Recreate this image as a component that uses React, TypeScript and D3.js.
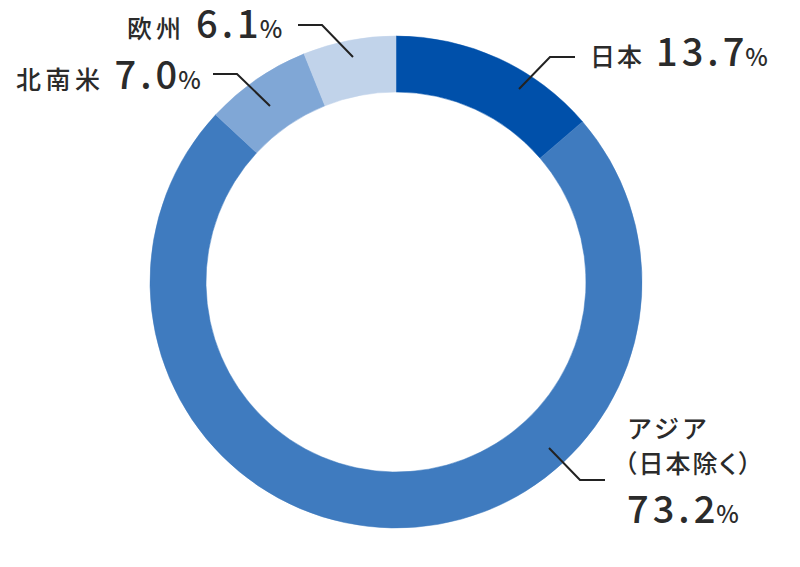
import React from "react";
import * as d3 from "d3";

const categories = ["日本", "アジア", "北南米", "欧州"];
const values = [13.7, 73.2, 7.0, 6.1];
const colors = ["#0050aa", "#3f7bbf", "#80a7d6", "#c1d3ea"];
const asiaNote = "（日本除く）";

// annotation layout (leader lines)
const leaders: [number, number][][] = [
  [[519, 89], [550, 57], [575, 57]],
  [[549, 448], [580, 480], [605, 480]],
  [[270, 106], [237, 74], [213, 74]],
  [[353, 57], [322, 25], [298, 25]],
];

const W = 800, H = 567;
const cx = 396, cy = 282, R = 246, r = 190;
const textColor = "#2b2b2b";
const font = "'Noto Sans CJK JP', 'Noto Sans', sans-serif";
const labelSize = 25, numSize = 38, pctSize = 24;

export default function App() {
  const pie = d3.pie<number>().sort(null).value((d) => d);
  const arcs = pie(values);
  const arcGen = d3.arc<d3.PieArcDatum<number>>().innerRadius(r).outerRadius(R);
  const line = d3.line();

  const pct = (v: number) => v.toFixed(1);

  const Num = ({ v, dx = 0 }: { v: number; dx?: number }) => (
    <>
      <tspan dx={dx} fontSize={numSize} letterSpacing={4}>{pct(v)}</tspan>
      <tspan dx={-3} fontSize={pctSize}>%</tspan>
    </>
  );

  return (
    <svg width={W} height={H} style={{ position: "absolute", left: 0, top: 0, background: "#fff" }} fontFamily={font} fontWeight={500}>
      <g transform={`translate(${cx},${cy})`}>
        {arcs.map((a, i) => (
          <path key={i} d={arcGen(a) || ""} fill={colors[i]} stroke={colors[i]} strokeWidth={0.5} />
        ))}
      </g>
      {leaders.map((pts, i) => (
        <path key={i} d={line(pts) || ""} fill="none" stroke="#222" strokeWidth={2} />
      ))}
      {/* Japan */}
      <text x={590} y={66} fill={textColor}>
        <tspan fontSize={labelSize} letterSpacing={2}>{categories[0]}</tspan>
        <Num v={values[0]} dx={12} />
      </text>
      {/* Asia */}
      <text x={627} y={438} fill={textColor} fontSize={labelSize} letterSpacing={3}>{categories[1]}</text>
      <text x={624} y={473} fill={textColor} fontSize={labelSize} letterSpacing={2} style={{ fontFeatureSettings: "'palt'" }}>{asiaNote}</text>
      <text x={627} y={523} fill={textColor}>
        <Num v={values[1]} />
      </text>
      {/* Americas */}
      <text x={16} y={89} fill={textColor}>
        <tspan fontSize={labelSize} letterSpacing={4.5}>{categories[2]}</tspan>
        <Num v={values[2]} dx={10} />
      </text>
      {/* Europe */}
      <text x={127} y={38} fill={textColor}>
        <tspan fontSize={labelSize} letterSpacing={4}>{categories[3]}</tspan>
        <Num v={values[3]} dx={11} />
      </text>
    </svg>
  );
}
